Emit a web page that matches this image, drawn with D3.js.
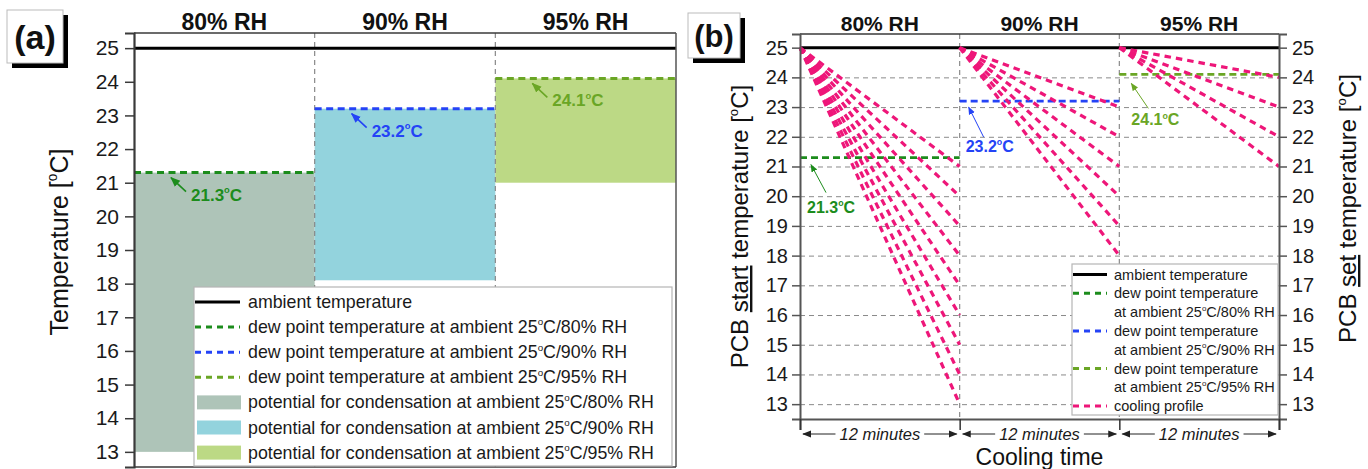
<!DOCTYPE html>
<html><head><meta charset="utf-8">
<script src="https://cdn.jsdelivr.net/npm/d3@7"></script>
<style>
body{margin:0;background:#fff}
svg{display:block;font-family:"Liberation Sans",Arial,sans-serif}
</style>
</head><body>
<svg id="c" width="1368" height="469"></svg>
<script>
// ---------------- data ----------------
const categories = ["80% RH", "90% RH", "95% RH"];
const ambientTemp = 25;
const dewPoints = [21.3, 23.2, 24.1];
const condensationLow = [13, 18.1, 21];
const coolingSetTemps80 = [21, 20, 19, 18, 17, 16, 15, 14, 13];
const coolingSetTemps90 = [23, 22, 21, 20, 19, 18];
const coolingSetTemps95 = [24, 23, 22, 21];
const stageMinutes = [12, 12, 12];
const yTickValues = [13, 14, 15, 16, 17, 18, 19, 20, 21, 22, 23, 24, 25];
const stageLabel = "12 minutes";

// ---------------- styles ----------------
const dewColors = ["#1c8c1c", "#2443f6", "#6aa625"];
const barColors = ["#aec4b8", "#93d3dd", "#bcd985"];
const pink = "#ee1679";
const axisColor = "#3a3a3a";

const svg = d3.select("#c");
const defs = svg.append("defs");
function marker(id, color, size) {
  defs.append("marker").attr("id", id).attr("viewBox", "0 0 10 10")
    .attr("refX", 9).attr("refY", 5).attr("markerWidth", size).attr("markerHeight", size)
    .attr("orient", "auto-start-reverse").attr("markerUnits", "userSpaceOnUse")
    .append("path").attr("d", "M0,1 L10,5 L0,9 Z").attr("fill", color);
}
dewColors.forEach((c, i) => { marker("arA" + i, c, 10); marker("arB" + i, c, 8); });
marker("arK", "#222", 9);

function addDeg(t, str) {
  const parts = str.split("°");
  t.append("tspan").text(parts[0]);
  for (let i = 1; i < parts.length; i++) {
    t.append("tspan").attr("font-size", "0.55em").attr("dy", "-0.78em").text("o");
    t.append("tspan").attr("dy", "0.43em").text(parts[i]);
  }
  return t;
}

function panelLabel(x, y, w, h, txt, fs) {
  const g = svg.append("g");
  g.append("rect").attr("x", x + 5).attr("y", y + 5).attr("width", w).attr("height", h).attr("fill", "#000");
  g.append("rect").attr("x", x).attr("y", y).attr("width", w).attr("height", h).attr("fill", "#fff")
    .attr("stroke", "#bbb").attr("stroke-width", 1);
  g.append("text").attr("x", x + w / 2).attr("y", y + h / 2 + fs * 0.36).attr("text-anchor", "middle")
    .attr("font-size", fs).attr("font-weight", "bold").attr("fill", "#111").text(txt);
}

// ================= PANEL (a) =================
const A = { l: 134, r: 676, t: 33, b: 467 };
const xA = d3.scaleBand().domain(categories).range([A.l, A.r]).padding(0);
const yA = d3.scaleLinear().domain([12.55, 25.45]).range([A.b, A.t]);
const gA = svg.append("g");

// condensation bars
gA.selectAll("rect.bar").data(categories).join("rect").attr("class", "bar")
  .attr("x", d => xA(d)).attr("width", xA.bandwidth())
  .attr("y", (d, i) => yA(dewPoints[i])).attr("height", (d, i) => yA(condensationLow[i]) - yA(dewPoints[i]))
  .attr("fill", (d, i) => barColors[i]);

// column dividers
gA.selectAll("line.div").data(categories.slice(1)).join("line")
  .attr("x1", d => xA(d)).attr("x2", d => xA(d)).attr("y1", A.t).attr("y2", A.b)
  .attr("stroke", "#888").attr("stroke-width", 1.2).attr("stroke-dasharray", "5,4");

// ambient line
gA.append("line").attr("x1", A.l).attr("x2", A.r).attr("y1", yA(ambientTemp)).attr("y2", yA(ambientTemp))
  .attr("stroke", "#000").attr("stroke-width", 3);

// dew lines
gA.selectAll("line.dew").data(categories).join("line")
  .attr("x1", d => xA(d)).attr("x2", d => xA(d) + xA.bandwidth())
  .attr("y1", (d, i) => yA(dewPoints[i])).attr("y2", (d, i) => yA(dewPoints[i]))
  .attr("stroke", (d, i) => dewColors[i]).attr("stroke-width", 3).attr("stroke-dasharray", "7,4.5");

// annotations
categories.forEach((c, i) => {
  const x0 = xA(c), yd = yA(dewPoints[i]);
  gA.append("line").attr("x1", x0 + 52).attr("y1", yd + 19).attr("x2", x0 + 37).attr("y2", yd + 5)
    .attr("stroke", dewColors[i]).attr("stroke-width", 1.6).attr("marker-end", `url(#arA${i})`);
  addDeg(gA.append("text").attr("x", x0 + 57).attr("y", yd + 28).attr("font-size", 17)
    .attr("font-weight", "bold").attr("fill", dewColors[i]), dewPoints[i].toFixed(1) + "°C");
});

// frame
gA.append("line").attr("x1", A.l).attr("x2", A.r).attr("y1", A.t).attr("y2", A.t).attr("stroke", axisColor).attr("stroke-width", 1.5);
gA.append("line").attr("x1", A.r).attr("x2", A.r).attr("y1", A.t).attr("y2", A.b).attr("stroke", "#555").attr("stroke-width", 1.5);
gA.append("line").attr("x1", A.l).attr("x2", A.r).attr("y1", A.b).attr("y2", A.b).attr("stroke", axisColor).attr("stroke-width", 1.5);

// y axis
const axA = gA.append("g").attr("transform", `translate(${A.l},0)`)
  .call(d3.axisLeft(yA).tickValues(yTickValues).tickSize(9).tickPadding(6).tickFormat(d3.format("d")));
axA.select(".domain").attr("stroke", axisColor).attr("stroke-width", 2.2);
axA.selectAll(".tick line").attr("stroke", axisColor).attr("stroke-width", 1.5);
axA.selectAll(".tick text").attr("font-size", 21).attr("fill", "#1a1a1a").attr("font-family", "Liberation Sans, Arial, sans-serif");

// column titles
gA.selectAll("text.ct").data(categories).join("text")
  .attr("x", d => xA(d) + xA.bandwidth() / 2).attr("y", 30).attr("text-anchor", "middle")
  .attr("font-size", 23).attr("font-weight", "bold").attr("fill", "#111").text(d => d);

// y label
addDeg(gA.append("text").attr("transform", `translate(68,${(A.t + A.b) / 2 - 8}) rotate(-90)`)
  .attr("text-anchor", "middle").attr("font-size", 25).attr("fill", "#111"), "Temperature [°C]");

// legend (a)
const legendAItems = [{ type: "line", color: "#000", dash: null, label: "ambient temperature" }]
  .concat(categories.map((c, i) => ({ type: "line", color: dewColors[i], dash: "6,5", label: `dew point temperature at ambient ${ambientTemp}°C/${c}` })))
  .concat(categories.map((c, i) => ({ type: "rect", color: barColors[i], label: `potential for condensation at ambient ${ambientTemp}°C/${c}` })));
const LA = { x: 194, y: 287, w: 478, h: 179, row0: 302, step: 25.1 };
const lgA = svg.append("g");
lgA.append("rect").attr("x", LA.x).attr("y", LA.y).attr("width", LA.w).attr("height", LA.h)
  .attr("fill", "#fff").attr("stroke", "#b5b5b5").attr("stroke-width", 1.2);
legendAItems.forEach((it, k) => {
  const cy = LA.row0 + k * LA.step;
  if (it.type === "line") {
    lgA.append("line").attr("x1", LA.x + 1).attr("x2", LA.x + 46).attr("y1", cy).attr("y2", cy)
      .attr("stroke", it.color).attr("stroke-width", 3).attr("stroke-dasharray", it.dash);
  } else {
    lgA.append("rect").attr("x", LA.x + 3).attr("y", cy - 7).attr("width", 44).attr("height", 14).attr("fill", it.color);
  }
  addDeg(lgA.append("text").attr("x", LA.x + 54).attr("y", cy + 6).attr("font-size", 17.8).attr("fill", "#1a1a1a"), it.label);
});

panelLabel(7, 10, 56, 53, "(a)", 34);

// ================= PANEL (b) =================
const B = { l: 800, r: 1279, t: 34, b: 419 };
const totalMin = d3.sum(stageMinutes);
const stageStart = stageMinutes.map((m, i) => d3.sum(stageMinutes.slice(0, i)));
const xB = d3.scaleLinear().domain([0, totalMin]).range([B.l, B.r]);
const yB = d3.scaleLinear().domain([12.5, 25.46]).range([B.b, B.t]);
const gB = svg.append("g");

// grid
const grid = gB.append("g").attr("transform", `translate(${B.l},0)`)
  .call(d3.axisLeft(yB).tickValues(yTickValues).tickSize(-(B.r - B.l)).tickFormat(""));
grid.select(".domain").remove();
grid.selectAll(".tick line").attr("stroke", "#8a8a8a").attr("stroke-width", 1).attr("stroke-dasharray", "5,4");

// column dividers
gB.selectAll("line.div").data(stageStart.slice(1)).join("line")
  .attr("x1", d => xB(d)).attr("x2", d => xB(d)).attr("y1", B.t).attr("y2", B.b)
  .attr("stroke", "#8a8a8a").attr("stroke-width", 1.2).attr("stroke-dasharray", "5,4");

// dew lines
gB.selectAll("line.dew").data(dewPoints).join("line")
  .attr("x1", (d, i) => xB(stageStart[i])).attr("x2", (d, i) => xB(stageStart[i] + stageMinutes[i]))
  .attr("y1", d => yB(d)).attr("y2", d => yB(d))
  .attr("stroke", (d, i) => dewColors[i]).attr("stroke-width", 2.8).attr("stroke-dasharray", "7,4");

// ambient
gB.append("line").attr("x1", B.l).attr("x2", B.r).attr("y1", yB(ambientTemp)).attr("y2", yB(ambientTemp))
  .attr("stroke", "#000").attr("stroke-width", 3);

// cooling profiles
const coolingSets = [coolingSetTemps80, coolingSetTemps90, coolingSetTemps95];
const line = d3.line().x(d => xB(d[0])).y(d => yB(d[1]));
coolingSets.forEach((set, i) => {
  gB.selectAll(null).data(set).join("path")
    .attr("d", T => line([[stageStart[i], ambientTemp], [stageStart[i] + stageMinutes[i], T]]))
    .attr("fill", "none").attr("stroke", pink).attr("stroke-width", 3.2).attr("stroke-dasharray", "6.5,5");
});

// annotations (b)
const annB = [
  { tip: [11, 7], tail: [26, 35], txt: [7, 55] },
  { tip: [9, 6], tail: [24, 36], txt: [6, 51] },
  { tip: [12, 9], tail: [29, 34], txt: [12, 51] }
];
dewPoints.forEach((d, i) => {
  const x0 = xB(stageStart[i]), yd = yB(d), a = annB[i];
  gB.append("line").attr("x1", x0 + a.tail[0]).attr("y1", yd + a.tail[1]).attr("x2", x0 + a.tip[0]).attr("y2", yd + a.tip[1])
    .attr("stroke", dewColors[i]).attr("stroke-width", 1).attr("marker-end", `url(#arB${i})`);
  addDeg(gB.append("text").attr("x", x0 + a.txt[0]).attr("y", yd + a.txt[1]).attr("font-size", 16)
    .attr("font-weight", "bold").attr("fill", dewColors[i]), d.toFixed(1) + "°C");
});

// frame
gB.append("line").attr("x1", B.l).attr("x2", B.r).attr("y1", B.t).attr("y2", B.t).attr("stroke", axisColor).attr("stroke-width", 1.5);

// axes
const axBL = gB.append("g").attr("transform", `translate(${B.l},0)`)
  .call(d3.axisLeft(yB).tickValues(yTickValues).tickSize(8).tickPadding(4).tickFormat(d3.format("d")));
const axBR = gB.append("g").attr("transform", `translate(${B.r},0)`)
  .call(d3.axisRight(yB).tickValues(yTickValues).tickSize(8).tickPadding(5).tickFormat(d3.format("d")));
[axBL, axBR].forEach(ax => {
  ax.select(".domain").attr("stroke", "#555").attr("stroke-width", 2);
  ax.selectAll(".tick line").attr("stroke", "#555").attr("stroke-width", 1.5);
  ax.selectAll(".tick text").attr("font-size", 20).attr("fill", "#1a1a1a").attr("font-family", "Liberation Sans, Arial, sans-serif");
});
// bottom axis with stage boundaries
const axBB = gB.append("g").attr("transform", `translate(0,${B.b})`)
  .call(d3.axisBottom(xB).tickValues(stageStart.concat([totalMin])).tickSize(11).tickFormat(""));
axBB.select(".domain").attr("stroke", "#555").attr("stroke-width", 2);
axBB.selectAll(".tick line").attr("stroke", "#333").attr("stroke-width", 1.5);

// stage duration labels with arrows
stageMinutes.forEach((m, i) => {
  const xa = xB(stageStart[i]), xb = xB(stageStart[i] + m), cx = (xa + xb) / 2, cy = 434;
  const t = gB.append("text").attr("x", cx).attr("y", cy + 5.5).attr("text-anchor", "middle")
    .attr("font-size", 16.5).attr("font-style", "italic").attr("fill", "#1a1a1a").text(stageLabel);
  const w = t.node().getComputedTextLength();
  gB.append("line").attr("x1", cx - w / 2 - 4).attr("x2", xa + 3).attr("y1", cy).attr("y2", cy)
    .attr("stroke", "#222").attr("stroke-width", 1).attr("marker-end", "url(#arK)");
  gB.append("line").attr("x1", cx + w / 2 + 4).attr("x2", xb - 3).attr("y1", cy).attr("y2", cy)
    .attr("stroke", "#222").attr("stroke-width", 1).attr("marker-end", "url(#arK)");
});

// column titles
gB.selectAll("text.ct").data(categories).join("text")
  .attr("x", (d, i) => xB(stageStart[i] + stageMinutes[i] / 2)).attr("y", 31).attr("text-anchor", "middle")
  .attr("font-size", 21).attr("font-weight", "bold").attr("fill", "#111").text(d => d);

// axis titles
const lblL = gB.append("text").attr("transform", `translate(748,${(B.t + B.b) / 2}) rotate(-90)`)
  .attr("text-anchor", "middle").attr("font-size", 24).attr("fill", "#111");
lblL.append("tspan").text("PCB ");
lblL.append("tspan").attr("text-decoration", "underline").text("start");
addDeg(lblL, " temperature [°C]");
const lblR = gB.append("text").attr("transform", `translate(1356,${(B.t + B.b) / 2 - 18}) rotate(-90)`)
  .attr("text-anchor", "middle").attr("font-size", 24).attr("fill", "#111");
lblR.append("tspan").text("PCB ");
lblR.append("tspan").attr("text-decoration", "underline").text("set");
addDeg(lblR, " temperature [°C]");
gB.append("text").attr("x", (B.l + B.r) / 2).attr("y", 465).attr("text-anchor", "middle")
  .attr("font-size", 23).attr("fill", "#111").text("Cooling time");

// legend (b)
const legendBItems = [{ color: "#000", dash: null, lines: ["ambient temperature"] }]
  .concat(categories.map((c, i) => ({ color: dewColors[i], dash: "6,5", lines: ["dew point temperature", `at ambient ${ambientTemp}°C/${c}`] })))
  .concat([{ color: pink, dash: "6,5", lines: ["cooling profile"] }]);
const LB = { x: 1072, y: 264, w: 206, h: 151, row0: 274.5, step: 18.8 };
const lgB = svg.append("g");
lgB.append("rect").attr("x", LB.x).attr("y", LB.y).attr("width", LB.w).attr("height", LB.h)
  .attr("fill", "#fff").attr("stroke", "#b5b5b5").attr("stroke-width", 1.2);
let row = 0;
legendBItems.forEach(it => {
  const cy = LB.row0 + row * LB.step;
  lgB.append("line").attr("x1", LB.x + 1).attr("x2", LB.x + 35).attr("y1", cy).attr("y2", cy)
    .attr("stroke", it.color).attr("stroke-width", 3).attr("stroke-dasharray", it.dash);
  it.lines.forEach((ln, j) => {
    addDeg(lgB.append("text").attr("x", LB.x + 42).attr("y", LB.row0 + (row + j) * LB.step + 5)
      .attr("font-size", 14.5).attr("fill", "#1a1a1a"), ln);
  });
  row += it.lines.length;
});

panelLabel(688, 13, 52, 45, "(b)", 31);
</script>
</body></html>
